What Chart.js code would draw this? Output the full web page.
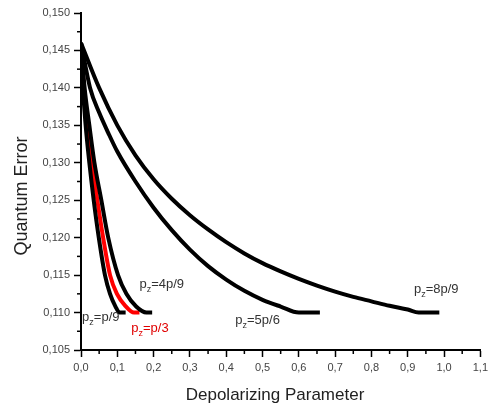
<!DOCTYPE html>
<html>
<head>
<meta charset="utf-8">
<script src="https://cdn.jsdelivr.net/npm/chart.js@4/dist/chart.umd.min.js"></script>
<style>
html,body{margin:0;padding:0;background:#fff;}
#wrap{width:492px;height:407px;}
</style>
</head>
<body>
<div id="wrap"><canvas id="c" width="492" height="407"></canvas></div>
<script>
// ---- data ----
const xTicks = [0.0,0.1,0.2,0.3,0.4,0.5,0.6,0.7,0.8,0.9,1.0,1.1];
const yTicks = [0.105,0.110,0.115,0.120,0.125,0.130,0.135,0.140,0.145,0.150];

const depol_p9  = [0.001, 0.0055, 0.0128, 0.023, 0.035, 0.049, 0.066, 0.080, 0.095, 0.106, 0.123];
const qber_p9   = [0.1455, 0.140, 0.135, 0.130, 0.125, 0.120, 0.115, 0.1125, 0.1108, 0.1100, 0.1100];

const depol_p3  = [0.004, 0.0164, 0.030, 0.045, 0.061, 0.080, 0.099, 0.122, 0.146, 0.161];
const qber_p3   = [0.1425, 0.135, 0.130, 0.125, 0.120, 0.115, 0.1125, 0.1109, 0.1100, 0.1100];

const depol_4p9 = [0.0, 0.010, 0.023, 0.037, 0.056, 0.075, 0.102, 0.125, 0.152, 0.180, 0.196];
const qber_4p9  = [0.1460, 0.140, 0.135, 0.130, 0.125, 0.120, 0.115, 0.1125, 0.1108, 0.1100, 0.1100];

const depol_5p6 = [0.0, 0.025, 0.05, 0.075, 0.10, 0.15, 0.20, 0.25, 0.30, 0.35, 0.40, 0.45, 0.50, 0.55, 0.60, 0.658];
const qber_5p6  = [0.1460, 0.1400, 0.1367, 0.1340, 0.1315, 0.1275, 0.1240, 0.1210, 0.1184, 0.1162, 0.1144, 0.1129, 0.1117, 0.1108, 0.1100, 0.1100];

const depol_8p9 = [0.0, 0.05, 0.10, 0.15, 0.20, 0.25, 0.30, 0.35, 0.40, 0.45, 0.50, 0.55, 0.60, 0.65, 0.70, 0.75, 0.80, 0.85, 0.90, 0.93, 0.987];
const qber_8p9  = [0.1460, 0.1400, 0.1350, 0.1310, 0.1278, 0.1252, 0.1230, 0.1211, 0.1194, 0.1179, 0.1166, 0.1155, 0.1145, 0.1136, 0.1128, 0.1121, 0.1115, 0.1109, 0.1104, 0.1100, 0.1100];

const curveLabels = [
  {ratio:'=p/9',  x:0.003, y:0.1093, color:'#333'},
  {ratio:'=p/3',  x:0.1385, y:0.1079, color:'#e00000'},
  {ratio:'=4p/9', x:0.161, y:0.1137, color:'#333'},
  {ratio:'=5p/6', x:0.425, y:0.1089, color:'#333'},
  {ratio:'=8p/9', x:0.917, y:0.1131, color:'#333'}
];

const FONT = '"Liberation Sans", Arial, sans-serif';
function pts(xs, ys){ return xs.map((x,i)=>({x:x, y:ys[i]})); }
function ds(xs, ys, color){
  return {data:pts(xs,ys), borderColor:color, backgroundColor:color, borderWidth:4,
          pointRadius:0, cubicInterpolationMode:'monotone', fill:false, borderCapStyle:'butt'};
}

const extras = {
  id:'extras',
  afterDraw(chart){
    const ctx = chart.ctx, xs = chart.scales.x, ys = chart.scales.y;
    const ca = chart.chartArea;
    ctx.save();
    // minor ticks
    ctx.strokeStyle = '#000'; ctx.lineWidth = 1.5;
    for (let i=0;i<xTicks.length-1;i++){
      const v = (xTicks[i]+xTicks[i+1])/2, px = xs.getPixelForValue(v);
      ctx.beginPath(); ctx.moveTo(px, ca.bottom); ctx.lineTo(px, ca.bottom+4); ctx.stroke();
    }
    for (let i=0;i<yTicks.length-1;i++){
      const v = (yTicks[i]+yTicks[i+1])/2, py = ys.getPixelForValue(v);
      ctx.beginPath(); ctx.moveTo(ca.left-4, py); ctx.lineTo(ca.left, py); ctx.stroke();
    }
    // axis titles
    ctx.fillStyle = '#222';
    ctx.font = '17px ' + FONT;
    ctx.textAlign = 'center'; ctx.textBaseline = 'middle';
    ctx.fillText('Depolarizing Parameter', 275, 395);
    ctx.save();
    ctx.translate(22, 196); ctx.rotate(-Math.PI/2);
    ctx.font = '18px ' + FONT;
    ctx.fillText('Quantum Error', 0, 0);
    ctx.restore();
    // curve labels
    ctx.textAlign = 'left'; ctx.textBaseline = 'middle';
    curveLabels.forEach(l=>{
      let px = xs.getPixelForValue(l.x), py = ys.getPixelForValue(l.y);
      ctx.fillStyle = l.color;
      ctx.font = '13px ' + FONT;
      ctx.fillText('p', px, py);
      px += ctx.measureText('p').width;
      ctx.font = '9px ' + FONT;
      ctx.fillText('z', px, py+5);
      px += ctx.measureText('z').width;
      ctx.font = '13px ' + FONT;
      ctx.fillText(l.ratio, px, py);
    });
    ctx.restore();
  }
};

new Chart(document.getElementById('c'), {
  type:'line',
  data:{
    datasets:[
      ds(depol_p9, qber_p9, '#000'),
      ds(depol_4p9, qber_4p9, '#000'),
      ds(depol_p3, qber_p3, '#ff0000'),
      ds(depol_5p6, qber_5p6, '#000'),
      ds(depol_8p9, qber_8p9, '#000')
    ]
  },
  options:{
    responsive:false,
    animation:false,
    layout:{padding:{top:13, right:9, left:0, bottom:0}},
    plugins:{legend:{display:false}, tooltip:{enabled:false}, title:{display:false}},
    scales:{
      x:{
        type:'linear', min:0, max:1.1,
        border:{display:true, color:'#000', width:2},
        grid:{drawOnChartArea:false, drawTicks:true, tickLength:7, tickColor:'#000', tickWidth:1.5},
        ticks:{stepSize:0.1, autoSkip:false, maxRotation:0, padding:4, color:'#444',
               font:{family:FONT, size:11},
               callback:(v)=>Number(v).toFixed(1).replace('.', ',')},
        afterFit:(s)=>{ s.height = 57; }
      },
      y:{
        type:'linear', min:0.105, max:0.150,
        border:{display:true, color:'#000', width:2},
        grid:{drawOnChartArea:false, drawTicks:true, tickLength:7, tickColor:'#000', tickWidth:1.5},
        ticks:{stepSize:0.005, autoSkip:false, padding:4, color:'#444',
               font:{family:FONT, size:11},
               callback:(v)=>Number(v).toFixed(3).replace('.', ',')},
        afterFit:(s)=>{ s.width = 81; }
      }
    }
  },
  plugins:[extras]
});
</script>
</body>
</html>
